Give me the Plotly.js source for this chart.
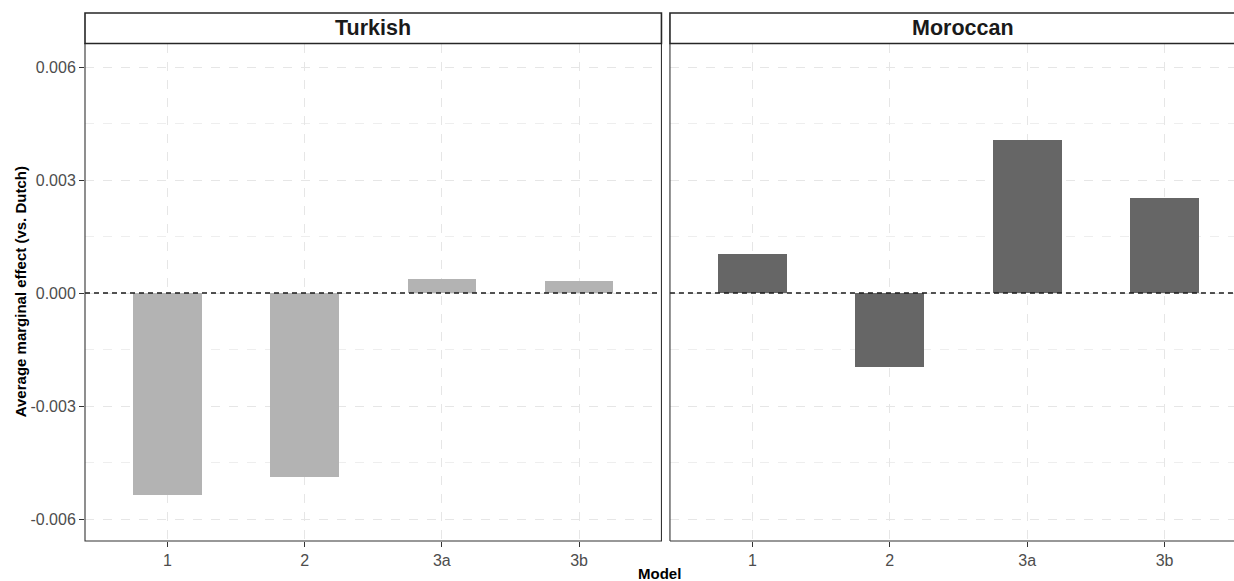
<!DOCTYPE html>
<html>
<head>
<meta charset="utf-8">
<script src="https://cdn.plot.ly/plotly-3.0.1.min.js"></script>
<style>html,body{margin:0;padding:0;background:#fff;}#chart{width:1234px;height:581px;}</style>
</head>
<body>
<div id="chart"></div>
<script>
// Data
const models = ["1", "2", "3a", "3b"];
const panels = ["Turkish", "Moroccan"];
const turkishEffect = [-0.00536, -0.00489, 0.00037, 0.00033];
const moroccanEffect = [0.00104, -0.00197, 0.00406, 0.00251];
const yTickVals = [-0.006, -0.003, 0, 0.003, 0.006];
const yTickText = ["-0.006", "-0.003", "0.000", "0.003", "0.006"];

const leftDom = [0, 0.5017];
const rightDom = [0.5091, 1];
const yDomTop = 0.9422;
const yRange = [-0.006584, 0.006624];

const traces = [
  {type: "bar", x: models, y: turkishEffect, xaxis: "x", yaxis: "y", width: 0.5,
   marker: {color: "#b3b3b3", line: {width: 0}}, hoverinfo: "x+y", showlegend: false},
  {type: "bar", x: models, y: moroccanEffect, xaxis: "x2", yaxis: "y2", width: 0.5,
   marker: {color: "#666666", line: {width: 0}}, hoverinfo: "x+y", showlegend: false}
];

const gridDash = {gridcolor: "#e6e6e6", griddash: "dash", gridwidth: 1};
const tickFont = {family: "Liberation Sans, Arial, sans-serif", size: 16, color: "#4d4d4d"};

function xAxis(domain, range) {
  return Object.assign({
    domain: domain, type: "category", categoryorder: "array", categoryarray: models,
    range: range, showgrid: true, zeroline: false, showline: false,
    ticks: "outside", ticklen: 5, tickwidth: 1, tickcolor: "#333333",
    tickfont: tickFont, fixedrange: true
  }, gridDash);
}
function yAxis(anchor, showLabels) {
  return Object.assign({
    domain: [0, yDomTop], anchor: anchor, range: yRange, showgrid: true, zeroline: false,
    showline: false, tickvals: yTickVals, ticktext: yTickText, showticklabels: showLabels,
    ticks: showLabels ? "outside" : "", ticklen: 5, tickwidth: 1, tickcolor: "#333333",
    tickfont: tickFont,
    minor: {tickvals: [-0.0045, -0.0015, 0.0015, 0.0045], showgrid: true, gridcolor: "#eeeeee", griddash: "dash", gridwidth: 1, ticks: ""},
    fixedrange: true
  }, gridDash);
}

const lineCol = "#333333";
const shapes = [
  // zero reference lines
  {type: "line", xref: "x domain", yref: "y", x0: 0, x1: 1, y0: 0, y1: 0,
   line: {color: "#1a1a1a", width: 1.3, dash: "5px,4px"}, layer: "above"},
  {type: "line", xref: "x2 domain", yref: "y2", x0: 0, x1: 1, y0: 0, y1: 0,
   line: {color: "#1a1a1a", width: 1.3, dash: "5px,4px"}, layer: "above"},
  // left panel border
  {type: "rect", xref: "paper", yref: "paper", x0: leftDom[0], x1: leftDom[1], y0: 0, y1: yDomTop,
   line: {color: lineCol, width: 1.1}, fillcolor: "rgba(0,0,0,0)", layer: "above"},
  // right panel border (left and bottom; right side cropped)
  {type: "line", xref: "paper", yref: "paper", x0: rightDom[0], x1: rightDom[0], y0: 0, y1: yDomTop,
   line: {color: lineCol, width: 1.1}, layer: "above"},
  {type: "line", xref: "paper", yref: "paper", x0: rightDom[0], x1: 1.02, y0: 0, y1: 0,
   line: {color: lineCol, width: 1.1}, layer: "above"},
  // strips
  {type: "rect", xref: "paper", yref: "paper", x0: leftDom[0], x1: leftDom[1], y0: yDomTop, y1: 1,
   line: {color: "#262626", width: 1.6}, fillcolor: "#ffffff", layer: "above"},
  {type: "rect", xref: "paper", yref: "paper", x0: rightDom[0], x1: 1.02, y0: yDomTop, y1: 1,
   line: {color: "#262626", width: 1.6}, fillcolor: "#ffffff", layer: "above"}
];

const stripFont = {family: "Liberation Sans, Arial, sans-serif", size: 21.5, color: "#1a1a1a"};
const annotations = [
  {xref: "paper", yref: "paper", x: (leftDom[0] + leftDom[1]) / 2, y: (yDomTop + 1) / 2,
   text: "<b>" + panels[0] + "</b>", showarrow: false, font: stripFont, xanchor: "center", yanchor: "middle"},
  {xref: "paper", yref: "paper", x: (rightDom[0] + 1.02) / 2, y: (yDomTop + 1) / 2,
   text: "<b>" + panels[1] + "</b>", showarrow: false, font: stripFont, xanchor: "center", yanchor: "middle"},
  {xref: "paper", yref: "paper", x: (leftDom[0] + rightDom[1]) / 2, y: 0, yshift: -32,
   text: "<b>Model</b>", showarrow: false, xanchor: "center", yanchor: "middle",
   font: {family: "Liberation Sans, Arial, sans-serif", size: 15, color: "#000000"}},
  {xref: "paper", yref: "paper", x: 0, xshift: -65, y: yDomTop / 2, textangle: -90,
   text: "<b>Average marginal effect (vs. Dutch)</b>", showarrow: false, xanchor: "center", yanchor: "middle",
   font: {family: "Liberation Sans, Arial, sans-serif", size: 15, color: "#000000"}}
];

const layout = {
  width: 1234, height: 581,
  margin: {l: 85, r: 0, t: 13, b: 40, pad: 0},
  paper_bgcolor: "#ffffff", plot_bgcolor: "#ffffff",
  showlegend: false, bargap: 0,
  xaxis: xAxis(leftDom, [-0.6, 3.6]),
  xaxis2: Object.assign(xAxis(rightDom, [-0.6, 3.505]), {anchor: "y2"}),
  yaxis: yAxis("x", true),
  yaxis2: Object.assign(yAxis("x2", false), {matches: "y"}),
  shapes: shapes,
  annotations: annotations
};
layout.xaxis.anchor = "y";

Plotly.newPlot("chart", traces, layout, {displayModeBar: false, staticPlot: true});
</script>
</body>
</html>
